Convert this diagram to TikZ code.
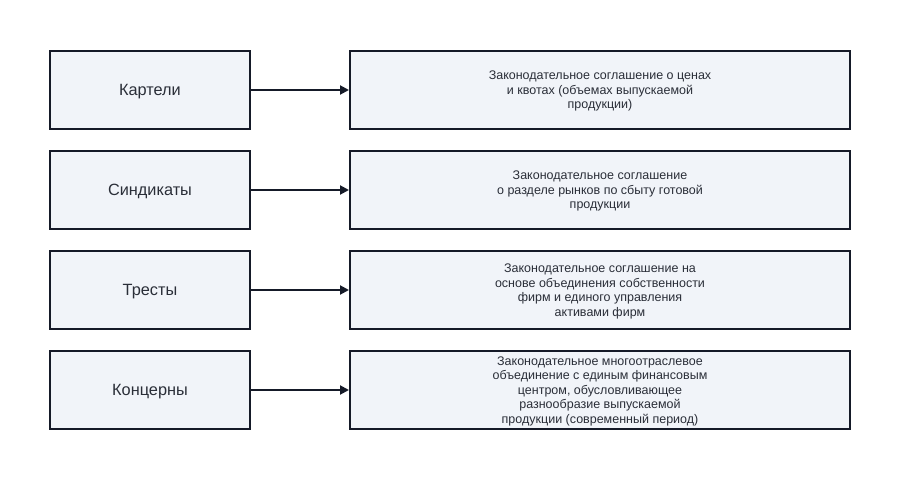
\documentclass[tikz,border=0pt]{standalone}
\usepackage{fontspec}
\setmainfont{Liberation Sans}
\usetikzlibrary{arrows.meta}
\definecolor{boxfill}{HTML}{F1F4F9}
\definecolor{boxline}{HTML}{151A28}
\definecolor{txt}{HTML}{2A2E38}
\begin{document}
\begin{tikzpicture}[x=1pt,y=-1pt,
    kind/.style={draw=boxline, fill=boxfill, line width=2pt, minimum width=200pt, minimum height=78pt, inner sep=0pt, text depth=0pt, text=txt, font=\fontsize{16.3}{19}\selectfont},
    descr/.style={draw=boxline, fill=boxfill, line width=2pt, minimum width=500pt, minimum height=78pt, inner sep=0pt, text depth=0pt, text=txt, align=center, font=\fontsize{12.5}{14.6}\selectfont},
    link/.style={draw=boxline, line width=2pt, -{Triangle[length=9pt,width=9pt]}}]
    \useasboundingbox (0,0) rectangle (900,500);
    
    \node[kind] (A) at (150,90) {Картели};
    \node[descr] (A1) at (600,90) {Законодательное соглашение о ценах\\и квотах (объемах выпускаемой\\продукции)};
    
    \node[kind] (B) at (150,190) {Синдикаты};
    \node[descr] (B1) at (600,190) {Законодательное соглашение\\о разделе рынков по сбыту готовой\\продукции};
    
    \node[kind] (C) at (150,290) {Тресты};
    \node[descr] (C1) at (600,290) {Законодательное соглашение на\\основе объединения собственности\\фирм и единого управления\\активами фирм};
    
    \node[kind] (D) at (150,390) {Концерны};
    \node[descr] (D1) at (600,390) {Законодательное многоотраслевое\\объединение с единым финансовым\\центром, обусловливающее\\разнообразие выпускаемой\\продукции (современный период)};
    
    \draw[link] (A) -- (A1);
    \draw[link] (B) -- (B1);
    \draw[link] (C) -- (C1);
    \draw[link] (D) -- (D1);
    
\end{tikzpicture}
\end{document}
